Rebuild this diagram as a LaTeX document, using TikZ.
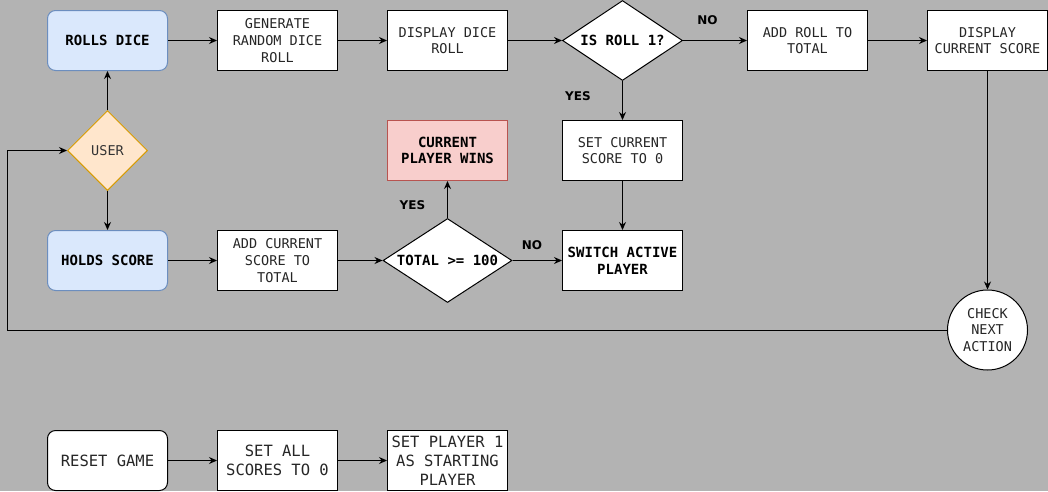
\documentclass[tikz,border=0pt]{standalone}
\usepackage{fontspec}
\setmainfont{DejaVu Sans Mono}
\newfontfamily\yesnofont{DejaVu Sans}
\usetikzlibrary{shapes.geometric,arrows.meta}

\definecolor{canvas}{HTML}{B3B3B3}
\definecolor{startfill}{HTML}{DAE8FC}
\definecolor{startline}{HTML}{6C8EBF}
\definecolor{userfill}{HTML}{FFE6CC}
\definecolor{userline}{HTML}{D79B00}
\definecolor{winfill}{HTML}{F8CECC}
\definecolor{winline}{HTML}{B85450}

\tikzset{
    flowarrow/.style={-{Stealth[length=8pt,width=7pt]}, line width=1pt},
    procbox/.style={rectangle, draw=black, fill=white, line width=1pt, minimum width=120pt,
        minimum height=60pt, align=center, inner sep=1pt, text=black!85,
        font=\fontsize{13.5}{16.7}\selectfont},
    boldbox/.style={procbox, text=black, font=\fontsize{14}{16.7}\selectfont\bfseries},
    startbox/.style={boldbox, rounded corners=8pt, fill=startfill, draw=startline},
    bigbox/.style={procbox, font=\fontsize{15.5}{19}\selectfont},
    decision/.style={diamond, draw=black, fill=white, line width=1pt, inner sep=0pt,
        align=center, font=\fontsize{14}{16.7}\selectfont\bfseries},
    yesno/.style={font=\fontsize{12}{14}\yesnofont\bfseries}
}

\begin{document}
\begin{tikzpicture}[x=1pt,y=-1pt]

        % Background and size of the page
        \fill[canvas] (0,0) rectangle (1048,491);
        \useasboundingbox (0,0) rectangle (1048,491);

        % Top row: rolling the dice
        \node[startbox] (rolls) at (107.5,40.5) {ROLLS DICE};
        \node[procbox] (generate) at (277.5,40.5) {GENERATE\\RANDOM DICE\\ROLL};
        \node[procbox] (showroll) at (447.5,40.5) {DISPLAY DICE\\ROLL};
        \node[decision, aspect=1.5, minimum width=120pt, minimum height=80pt] (isone) at (622.5,40.5) {IS ROLL 1?};
        \node[procbox] (addroll) at (807.5,40.5) {ADD ROLL TO\\TOTAL};
        \node[procbox] (showscore) at (987.5,40.5) {DISPLAY\\CURRENT SCORE};

        % Middle row
        \node[decision, minimum width=80pt, minimum height=80pt, fill=userfill, draw=userline,
            text=black!80, font=\fontsize{13.5}{16.7}\selectfont] (user) at (107.5,150.5) {USER};
        \node[boldbox, fill=winfill, draw=winline] (wins) at (447.5,150.5) {CURRENT\\PLAYER WINS};
        \node[procbox] (resetcur) at (622.5,150.5) {SET CURRENT\\SCORE TO 0};

        % Lower row: holding the score
        \node[startbox] (holds) at (107.5,260.5) {HOLDS SCORE};
        \node[procbox] (addcur) at (277.5,260.5) {ADD CURRENT\\SCORE TO\\TOTAL};
        \node[decision, aspect=1.54, minimum width=129pt, minimum height=84pt] (total) at (447.5,260.5) {TOTAL >= 100};
        \node[boldbox] (switch) at (622.5,260.5) {SWITCH ACTIVE\\PLAYER};
        \node[procbox, circle, minimum size=80pt] (check) at (987.5,330) {CHECK\\NEXT\\ACTION};

        % Bottom row: resetting the game
        \node[bigbox, rounded corners=8pt] (reset) at (107.5,460.5) {RESET GAME};
        \node[bigbox] (setall) at (277.5,460.5) {SET ALL\\SCORES TO 0};
        \node[bigbox] (setfirst) at (447.5,460.5) {SET PLAYER 1\\AS STARTING\\PLAYER};

        % Branch labels
        \node[yesno] (noroll) at (707.5,20.5) {NO};
        \node[yesno] (yesroll) at (578,96) {YES};
        \node[yesno] (yestotal) at (412.5,205) {YES};
        \node[yesno] (nototal) at (532,245) {NO};

        % Connectors between the steps
        \foreach \a/\b in {rolls/generate, generate/showroll, showroll/isone, isone/addroll,
            addroll/showscore, showscore/check, user/rolls, user/holds, isone/resetcur,
            resetcur/switch, holds/addcur, addcur/total, total/switch, total/wins,
            reset/setall, setall/setfirst} {
            \draw[flowarrow] (\a) -- (\b);
        }

        % Loop back to the user
        \coordinate (loopcorner) at (7.5,330);
        \draw[flowarrow] (check) -- (loopcorner) |- (user);

\end{tikzpicture}
\end{document}
